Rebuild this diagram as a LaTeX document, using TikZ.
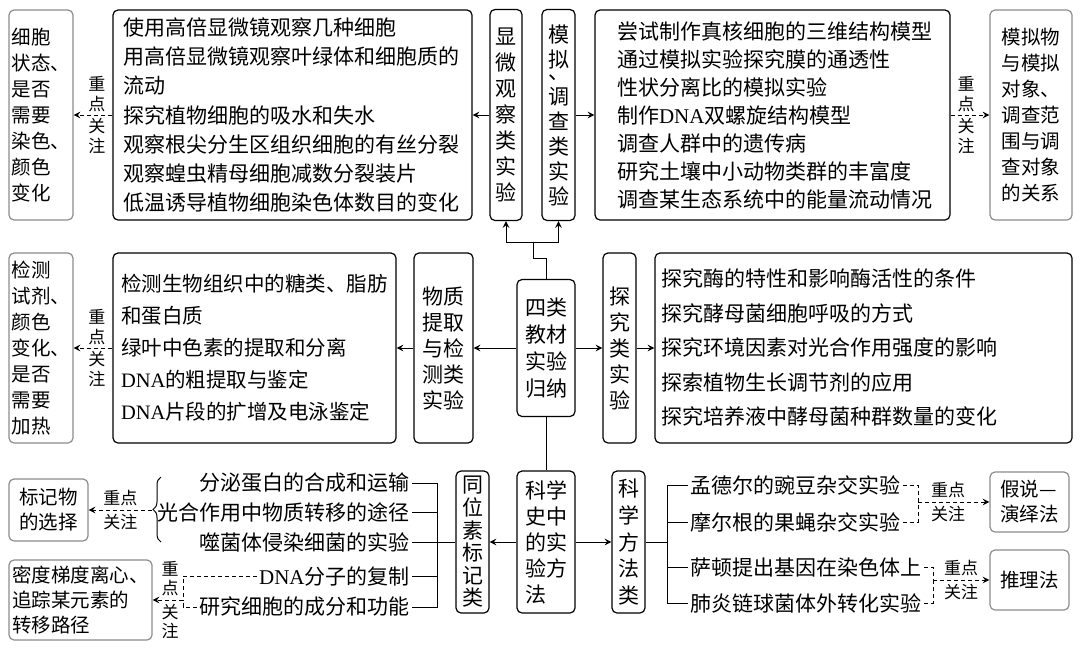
\documentclass[tikz,border=0pt]{standalone}
\usepackage{fontspec}
\setmainfont{Noto Sans CJK SC}
\newfontfamily\latinfont{Liberation Serif}
\usetikzlibrary{arrows, decorations.pathreplacing}
\newcommand{\dna}{{\latinfont DNA}}

\begin{document}
\begin{tikzpicture}[x=0.5pt, y=-0.5pt,
    box/.style={draw, line width=0.6pt, rounded corners=2.5pt, inner sep=0pt},
    listbox/.style={box, align=left, font=\fontsize{10.5}{14.6}\selectfont},
    vbox/.style={box, align=center, font=\fontsize{10.5}{13}\selectfont},
    gbox/.style={box, draw=black!45, align=left, font=\fontsize{9.75}{13}\selectfont},
    rowtext/.style={inner sep=1pt, font=\fontsize{10.5}{12}\selectfont},
    arrow/.style={->, >=stealth, line width=0.5pt},
    dasharrow/.style={arrow, dash pattern=on 2pt off 1.5pt},
    dashline/.style={line width=0.5pt, dash pattern=on 2pt off 1.5pt},
    focuslabel/.style={inner sep=0pt, align=center, font=\fontsize{8.5}{10}\selectfont}]

    \useasboundingbox (0,0) rectangle (1080,649);

    % top row
    \node[gbox, minimum width=32pt, minimum height=105pt] (stain) at (41,115) {细胞\\状态、\\是否\\需要\\染色、\\颜色\\变化};

    \node[listbox, text width=169.5pt, inner xsep=5pt, minimum height=105pt] (micro) at (292.5,115) {使用高倍显微镜观察几种细胞\\用高倍显微镜观察叶绿体和细胞质的\\流动\\探究植物细胞的吸水和失水\\观察根尖分生区组织细胞的有丝分裂\\观察蝗虫精母细胞减数分裂装片\\低温诱导植物细胞染色体数目的变化};

    \node[vbox, minimum width=16pt, minimum height=105.5pt] (microcls) at (506,115) {显\\微\\观\\察\\类\\实\\验};

    \node[vbox, minimum width=16.5pt, minimum height=105.5pt, font=\fontsize{10.5}{12.5}\selectfont] (simcls) at (558.5,115) {模\\拟\\[-6.5pt]、\\调\\查\\类\\实\\验};

    \node[listbox, text width=155.5pt, inner xsep=11pt, minimum height=105pt, font=\fontsize{10.5}{14}\selectfont] (model) at (772.5,115) {尝试制作真核细胞的三维结构模型\\通过模拟实验探究膜的通透性\\性状分离比的模拟实验\\制作\dna{}双螺旋结构模型\\调查人群中的遗传病\\研究土壤中小动物类群的丰富度\\调查某生态系统中的能量流动情况};

    \node[gbox, minimum width=41pt, minimum height=105pt] (modelkey) at (1031,115) {模拟物\\与模拟\\对象、\\调查范\\围与调\\查对象\\的关系};

    \draw[arrow] (microcls) -- (micro);
    \draw[arrow] (simcls) -- (model);
    \draw[dasharrow] (micro) -- node[focuslabel, pos=0.4, above=1.5pt] (tlfocusa) {重\\点} node[focuslabel, pos=0.4, below=1.5pt] (tlfocusb) {关\\注} (stain);
    \draw[dasharrow] (model) -- node[focuslabel, pos=0.4, above=1.5pt] (trfocusa) {重\\点} node[focuslabel, pos=0.4, below=1.5pt] (trfocusb) {关\\注} (modelkey);

    % middle row
    \node[gbox, minimum width=32pt, minimum height=95pt] (reagent) at (41,348) {检测\\试剂、\\颜色\\变化、\\是否\\需要\\加热};

    \node[listbox, text width=133.5pt, inner xsep=4pt, minimum height=95pt, font=\fontsize{10.25}{16}\selectfont] (detect) at (254.5,348) {检测生物组织中的糖类、脂肪\\和蛋白质\\绿叶中色素的提取和分离\\\dna{}的粗提取与鉴定\\\dna{}片段的扩增及电泳鉴定};

    \node[vbox, minimum width=29.5pt, minimum height=95pt] (extract) at (443.5,348) {物质\\提取\\与检\\测类\\实验};

    \node[vbox, minimum width=29pt, minimum height=68.5pt, font=\fontsize{10.5}{13.5}\selectfont] (root) at (546,348) {四类\\教材\\实验\\归纳};

    \node[vbox, minimum width=16.5pt, minimum height=95pt] (inquiry) at (619.5,348) {探\\究\\类\\实\\验};

    \node[listbox, text width=202.5pt, inner xsep=3pt, minimum height=95pt, font=\fontsize{10.5}{17.25}\selectfont] (inqlist) at (863.5,348) {探究酶的特性和影响酶活性的条件\\探究酵母菌细胞呼吸的方式\\探究环境因素对光合作用强度的影响\\探索植物生长调节剂的应用\\探究培养液中酵母菌种群数量的变化};

    \draw[arrow] (root) -- (extract);
    \draw[arrow] (extract) -- (detect);
    \draw[dasharrow] (detect) -- node[focuslabel, pos=0.4, above=1.5pt] (mlfocusa) {重\\点} node[focuslabel, pos=0.4, below=1.5pt] (mlfocusb) {关\\注} (reagent);
    \draw[arrow] (root) -- (inquiry);
    \draw[arrow] (inquiry) -- (inqlist);

    \coordinate (split) at (533,242);
    \draw[line width=0.5pt] (root.north) -- ++(0,-20) -| (split);
    \draw[arrow] (split) -| (microcls.south);
    \draw[arrow] (split) -| (simcls.south);

    % bottom row
    \node[vbox, minimum width=29pt, minimum height=71pt, align=left] (history) at (546,542) {科学\\史中\\的实\\验方\\法};

    \node[vbox, minimum width=16.5pt, minimum height=71pt, font=\fontsize{10.5}{11.3}\selectfont] (isotope) at (472.5,542) {同\\位\\素\\标\\记\\类};

    \node[vbox, minimum width=16.5pt, minimum height=71pt, font=\fontsize{10.5}{13.4}\selectfont] (method) at (628.5,542) {科\\学\\方\\法\\类};

    \draw[line width=0.5pt] (root) -- (history);
    \draw[arrow] (history) -- (isotope);
    \draw[arrow] (history) -- (method);

    % isotope list
    \node[rowtext, anchor=east] (iso1) at (412,483) {分泌蛋白的合成和运输};
    \node[rowtext, anchor=east] (iso2) at (412,512) {光合作用中物质转移的途径};
    \node[rowtext, anchor=east] (iso3) at (412,542) {噬菌体侵染细菌的实验};
    \node[rowtext, anchor=east] (iso4) at (412,576) {\dna{}分子的复制};
    \node[rowtext, anchor=east] (iso5) at (412,607) {研究细胞的成分和功能};

    \coordinate (isojoin) at (437,542);
    \draw[line width=0.5pt] (isotope) -- (isojoin);
    \draw[line width=0.5pt] (iso1.east) -| (isojoin);
    \draw[line width=0.5pt] (iso2.east) -| (isojoin);
    \draw[line width=0.5pt] (iso3.east) -| (isojoin);
    \draw[line width=0.5pt] (iso4.east) -| (isojoin);
    \draw[line width=0.5pt] (iso5.east) -| (isojoin);

    \node[gbox, minimum width=39.5pt, minimum height=31pt, font=\fontsize{9.75}{12.5}\selectfont] (marker) at (48.5,510) {标记物\\的选择};

    \node[gbox, minimum width=71.5pt, minimum height=40pt, font=\fontsize{9.75}{12.5}\selectfont] (density) at (80.5,600) {密度梯度离心、\\追踪某元素的\\转移路径};

    \coordinate (bracebot) at (161,542);
    \coordinate (bracetop) at (161,477);
    \coordinate (bracetip) at (152,510);
    \draw[line width=0.5pt, decorate, decoration={brace, amplitude=4pt}] (bracebot) -- (bracetop);
    \draw[dasharrow] (bracetip) -- node[focuslabel, above=2pt] (blfocusa) {重点} node[focuslabel, below=2pt] (blfocusb) {关注} (marker);

    \coordinate (tracejoin) at (183,600);
    \draw[dashline] (iso4.west) -| (tracejoin);
    \draw[dashline] (iso5.west) -| (tracejoin);
    \draw[dasharrow] (tracejoin) -- node[focuslabel, pos=0.42, above=2pt, font=\fontsize{8.5}{9.5}\selectfont] (dnfocusa) {重\\点} node[focuslabel, pos=0.42, below=2pt, font=\fontsize{8.5}{9.5}\selectfont] (dnfocusb) {关\\注} (density);

    % method list
    \node[rowtext, anchor=west] (mth1) at (688,485) {孟德尔的豌豆杂交实验};
    \node[rowtext, anchor=west] (mth2) at (688,522) {摩尔根的果蝇杂交实验};
    \node[rowtext, anchor=west] (mth3) at (688,567) {萨顿提出基因在染色体上};
    \node[rowtext, anchor=west] (mth4) at (688,603) {肺炎链球菌体外转化实验};

    \coordinate (methjoin) at (667,542);
    \draw[line width=0.5pt] (method) -- (methjoin);
    \draw[line width=0.5pt] (mth1.west) -| (methjoin);
    \draw[line width=0.5pt] (mth2.west) -| (methjoin);
    \draw[line width=0.5pt] (mth3.west) -| (methjoin);
    \draw[line width=0.5pt] (mth4.west) -| (methjoin);

    \node[gbox, minimum width=39.5pt, minimum height=30pt, font=\fontsize{9.75}{12.5}\selectfont] (deduct) at (1029.5,502) {假说—\\演绎法};

    \node[gbox, minimum width=39.5pt, minimum height=30pt, font=\fontsize{9.75}{12.5}\selectfont] (reasoning) at (1029.5,580) {推理法};

    \coordinate (hypjoin) at (918,502);
    \draw[dashline] (mth1.east) -| (hypjoin);
    \draw[dashline] (mth2.east) -| (hypjoin);
    \draw[dasharrow] (hypjoin) -- node[focuslabel, pos=0.42, above=2pt] (hypfocusa) {重点} node[focuslabel, pos=0.42, below=2pt] (hypfocusb) {关注} (deduct);

    \coordinate (infjoin) at (933,580);
    \draw[dashline] (mth3.east) -| (infjoin);
    \draw[dashline] (mth4.east) -| (infjoin);
    \draw[dasharrow] (infjoin) -- node[focuslabel, above=2pt] (inffocusa) {重点} node[focuslabel, below=2pt] (inffocusb) {关注} (reasoning);

\end{tikzpicture}
\end{document}
